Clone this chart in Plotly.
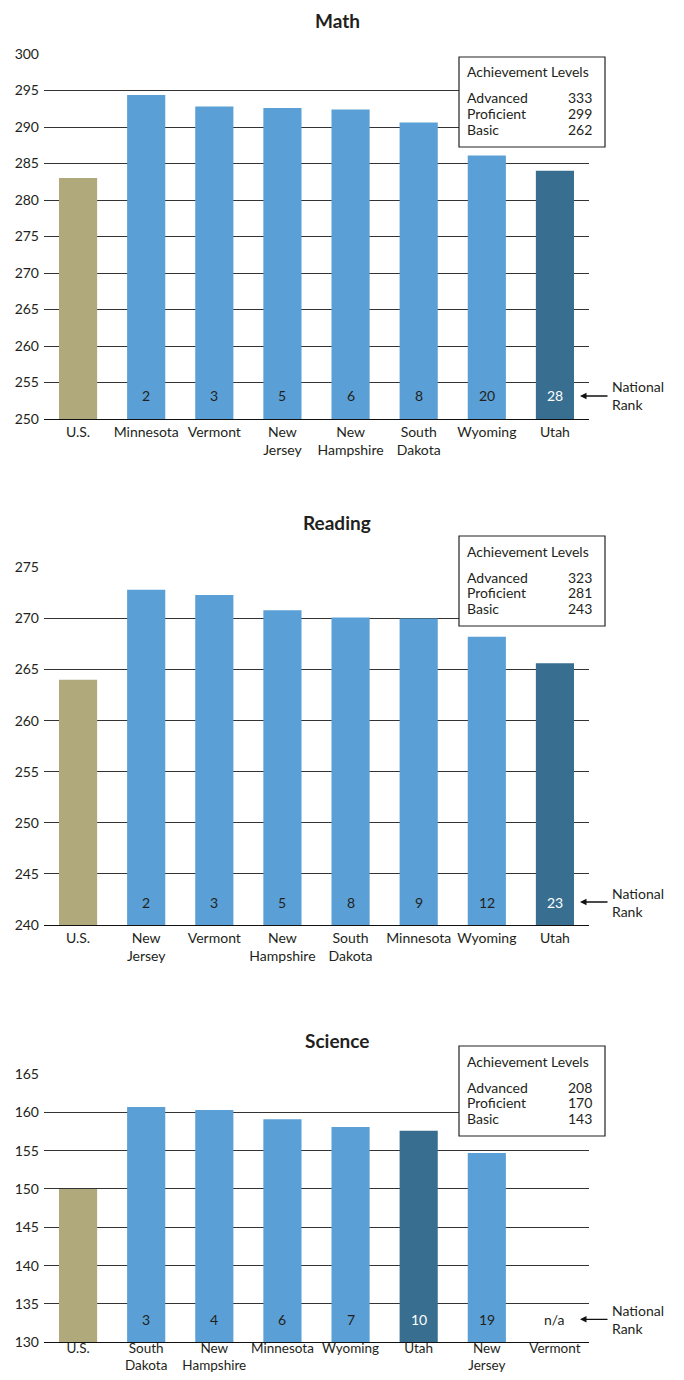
import plotly.graph_objects as go

# ---------------- data ----------------
math_states = ["U.S.", "Minnesota", "Vermont", "New<br>Jersey", "New<br>Hampshire", "South<br>Dakota", "Wyoming", "Utah"]
math_scores = [283.0, 294.4, 292.8, 292.6, 292.4, 290.6, 286.1, 284.0]
math_ranks = ["", "2", "3", "5", "6", "8", "20", "28"]
math_levels = [333, 299, 262]

reading_states = ["U.S.", "New<br>Jersey", "Vermont", "New<br>Hampshire", "South<br>Dakota", "Minnesota", "Wyoming", "Utah"]
reading_scores = [264.0, 272.8, 272.3, 270.8, 270.1, 270.0, 268.2, 265.6]
reading_ranks = ["", "2", "3", "5", "8", "9", "12", "23"]
reading_levels = [323, 281, 243]

science_states = ["U.S.", "South<br>Dakota", "New<br>Hampshire", "Minnesota", "Wyoming", "Utah", "New<br>Jersey", "Vermont"]
science_scores = [150.0, 160.7, 160.3, 159.1, 158.1, 157.6, 154.7, None]
science_ranks = ["", "3", "4", "6", "7", "10", "19", "n/a"]
science_levels = [208, 170, 143]

level_names = ["Advanced", "Proficient", "Basic"]

# ---------------- style ----------------
PAGE_W, PAGE_H = 684, 1380
OFF = 8  # default body margin of the html page
W, H = PAGE_W - 2 * OFF, PAGE_H - 2 * OFF
FONT = "Lato"
TXT = "#231F20"
C_US = "#B0A97C"
C_STATE = "#5A9FD5"
C_UTAH = "#386E90"
GRID = "#333333"

def px_x(px):
    return (px - OFF) / W

def px_y(py):
    return 1 - (py - OFF) / H

panels = [
    dict(title="Math", states=math_states, scores=math_scores, ranks=math_ranks, levels=math_levels,
         yr=[250, 300], top=54, bottom=419, title_y=21, box=(57, 147), xstand=0, xfont=14),
    dict(title="Reading", states=reading_states, scores=reading_scores, ranks=reading_ranks, levels=reading_levels,
         yr=[240, 275], top=567.3, bottom=925, title_y=522, box=(536, 626), xstand=0, xfont=14),
    dict(title="Science", states=science_states, scores=science_scores, ranks=science_ranks, levels=science_levels,
         yr=[130, 165], top=1074, bottom=1342.3, title_y=1040, box=(1046, 1136), xstand=-7, xfont=13.5),
]

X0, X1 = 44, 589

fig = go.Figure()
annotations = []
shapes = []

for i, p in enumerate(panels):
    n = "" if i == 0 else str(i + 1)
    xa, ya = "x" + n, "y" + n
    colors = []
    for s in p["states"]:
        if s == "U.S.":
            colors.append(C_US)
        elif s == "Utah":
            colors.append(C_UTAH)
        else:
            colors.append(C_STATE)
    xs = list(range(len(p["states"])))
    fig.add_trace(go.Bar(
        x=xs, y=p["scores"],
        marker=dict(color=colors, line=dict(width=0)),
        width=0.56, xaxis=xa, yaxis=ya, showlegend=False, hoverinfo="skip",
    ))
    dom_y = [px_y(p["bottom"]), px_y(p["top"])]
    fig.layout["xaxis" + n] = dict(
        domain=[px_x(X0), px_x(X1)], range=[-0.5, len(xs) - 0.5], anchor=ya,
        tickmode="array", tickvals=xs, ticktext=p["states"],
        showgrid=False, zeroline=False, showline=True, linecolor="#111", linewidth=1.2,
        ticks="", ticklabelstandoff=p["xstand"],
        tickfont=dict(family=FONT, size=p["xfont"], color=TXT), fixedrange=True,
        automargin=False,
    )
    fig.layout["yaxis" + n] = dict(
        domain=dom_y, range=p["yr"], anchor=xa, dtick=5, tick0=p["yr"][0],
        showgrid=True, gridcolor=GRID, gridwidth=1, zeroline=False, showline=False,
        ticks="", ticklabelstandoff=4, automargin=False,
        tickfont=dict(family=FONT, size=14, color=TXT), fixedrange=True,
    )
    # title
    annotations.append(dict(
        x=px_x(337), y=px_y(p["title_y"]), xref="paper", yref="paper",
        text="<b>%s</b>" % p["title"], showarrow=False, xanchor="center", yanchor="middle",
        borderpad=0, font=dict(family=FONT, size=19, color=TXT),
    ))
    # rank labels inside bars
    for xi, r in zip(xs, p["ranks"]):
        if not r:
            continue
        annotations.append(dict(
            x=xi, y=p["yr"][0], xref=xa, yref=ya, text=r, showarrow=False,
            xanchor="center", yanchor="middle", yshift=23,
            font=dict(family=FONT, size=14, color="white" if p["states"][xi] == "Utah" else TXT),
        ))
    # arrow + "National Rank"
    rank_py = p["bottom"] - 23
    annotations.append(dict(
        x=px_x(580), y=px_y(rank_py), xref="paper", yref="paper", text="",
        showarrow=True, ax=29, ay=0, axref="pixel", ayref="pixel",
        arrowhead=2, arrowsize=1, arrowwidth=1.3, arrowcolor="#111",
    ))
    annotations.append(dict(
        x=px_x(610), y=px_y(rank_py), xref="paper", yref="paper",
        text="National<br>Rank", showarrow=False, xanchor="left", yanchor="middle", align="left",
        font=dict(family=FONT, size=14, color=TXT),
    ))
    # achievement levels box
    bt, bb = p["box"]
    bl, br = 459, 605
    shapes.append(dict(
        type="rect", xref="paper", yref="paper",
        x0=px_x(bl), x1=px_x(br), y0=px_y(bb), y1=px_y(bt),
        line=dict(color="#222", width=1.2), fillcolor="white", layer="above",
    ))
    annotations.append(dict(
        x=px_x(bl + 6), y=px_y(bt + 15), xref="paper", yref="paper",
        text="Achievement Levels", showarrow=False, xanchor="left", yanchor="middle",
        font=dict(family=FONT, size=14, color=TXT),
    ))
    for k, (nm, v) in enumerate(zip(level_names, p["levels"])):
        yy = bt + 41 + 15.5 * k
        annotations.append(dict(
            x=px_x(bl + 6), y=px_y(yy), xref="paper", yref="paper",
            text=nm, showarrow=False, xanchor="left", yanchor="middle",
            font=dict(family=FONT, size=14, color=TXT),
        ))
        annotations.append(dict(
            x=px_x(br - 11), y=px_y(yy), xref="paper", yref="paper",
            text=str(v), showarrow=False, xanchor="right", yanchor="middle",
            font=dict(family=FONT, size=14, color=TXT),
        ))

fig.update_layout(
    width=W, height=H, margin=dict(l=0, r=0, t=0, b=0, autoexpand=False),
    paper_bgcolor="white", plot_bgcolor="white",
    bargap=0.44, annotations=annotations, shapes=shapes,
    font=dict(family=FONT, color=TXT),
)

fig.write_html("out.html")
